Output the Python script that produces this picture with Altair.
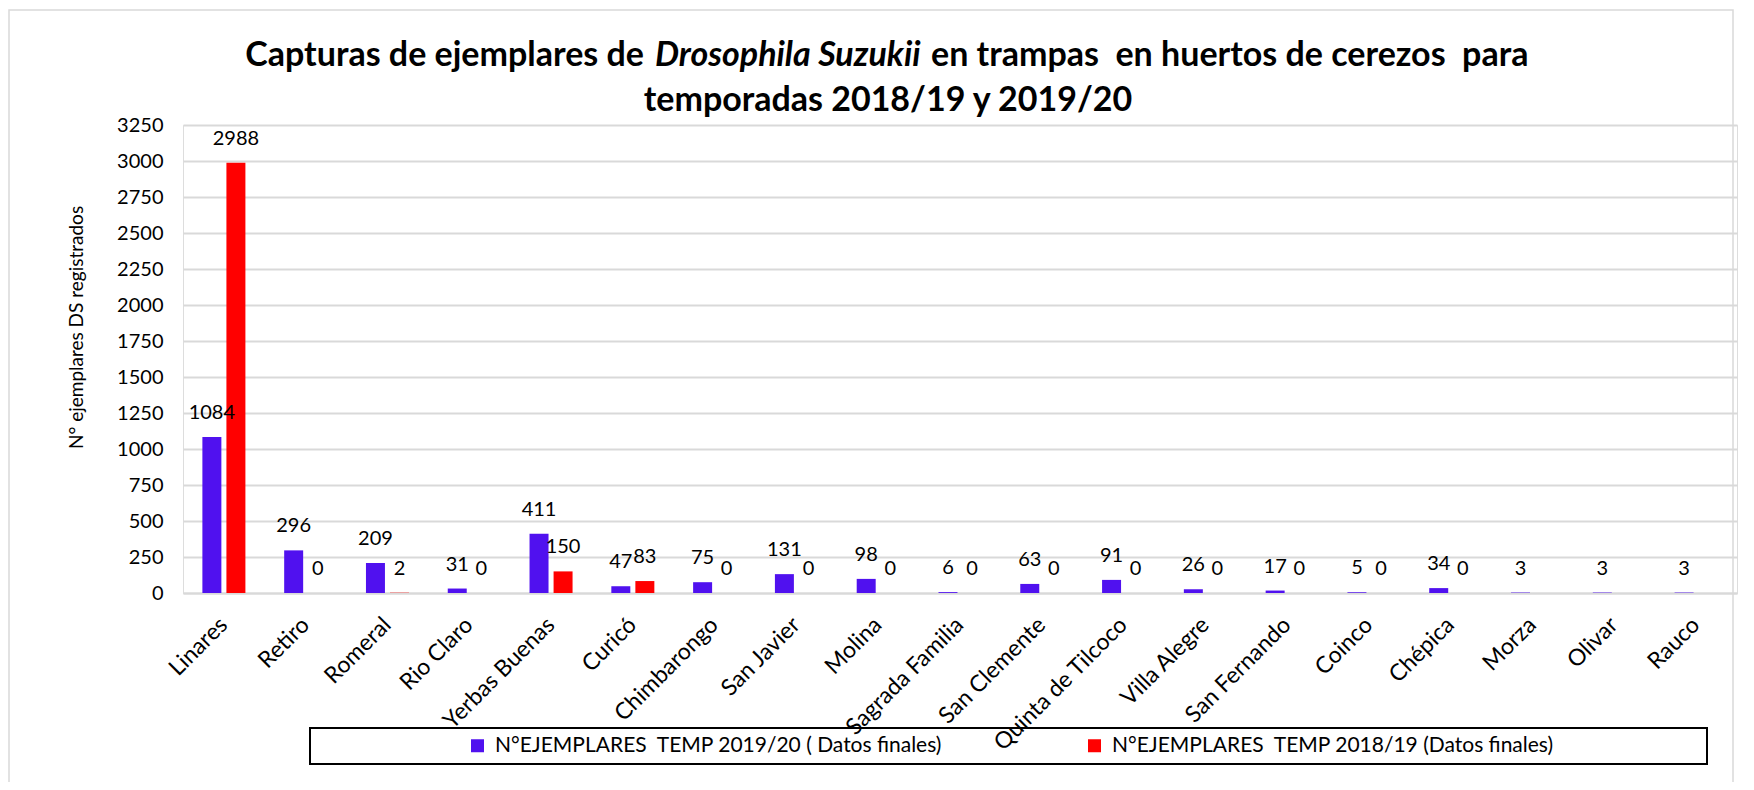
import altair as alt
import pandas as pd

# ---------------- data ----------------
localidades = ["Linares", "Retiro", "Romeral", "Rio Claro", "Yerbas Buenas", "Curicó",
               "Chimbarongo", "San Javier", "Molina", "Sagrada Familia", "San Clemente",
               "Quinta de Tilcoco", "Villa Alegre", "San Fernando", "Coinco", "Chépica",
               "Morza", "Olivar", "Rauco"]
temp_2019_20 = [1084, 296, 209, 31, 411, 47, 75, 131, 98, 6, 63, 91, 26, 17, 5, 34, 3, 3, 3]
temp_2018_19 = [2988, 0, 2, 0, 150, 83, 0, 0, 0, 0, 0, 0, 0, 0, 0, 0, None, None, None]
serie_2019_20 = "N°EJEMPLARES  TEMP 2019/20 ( Datos finales)"
serie_2018_19 = "N°EJEMPLARES  TEMP 2018/19 (Datos finales)"
y_ticks = [0, 250, 500, 750, 1000, 1250, 1500, 1750, 2000, 2250, 2500, 2750, 3000, 3250]
titulo_l1 = ["Capturas de ejemplares de", "Drosophila Suzukii", "en trampas  en huertos de cerezos  para"]
titulo_l2 = "temporadas 2018/19 y 2019/20"
eje_y = "N° ejemplares DS registrados"


def keep_spaces(s):
    # keep the double spaces of the original text visible in SVG
    return s.replace("  ", " \u00a0")


s1 = keep_spaces(serie_2019_20)
s2 = keep_spaces(serie_2018_19)

rows = []
for loc, a, b in zip(localidades, temp_2019_20, temp_2018_19):
    rows.append({"loc": loc, "serie": s1, "valor": a})
    if b is not None:
        rows.append({"loc": loc, "serie": s2, "valor": b})
df = pd.DataFrame(rows)

FONT = "Lato"
BLUE = "#5011EF"
RED = "#FF0000"
GRID = "#d9d9d9"
W, H = 1554, 468

x_enc = alt.X("loc:N", sort=localidades,
              scale=alt.Scale(paddingInner=0.474, paddingOuter=0.237),
              axis=alt.Axis(title=None, labelAngle=-45, labelAlign="right", labelBaseline="middle",
                            labelFont=FONT, labelFontSize=23, labelColor="black", labelPadding=28,
                            ticks=False, domainColor=GRID, domainWidth=2, labelLimit=400))
xoff_enc = alt.XOffset("serie:N", sort=[s1, s2],
                       scale=alt.Scale(paddingInner=0.21, paddingOuter=0))
y_enc = alt.Y("valor:Q", scale=alt.Scale(domain=[0, 3250], nice=False),
              axis=alt.Axis(values=y_ticks, format="d", title=eje_y, grid=True, gridColor=GRID,
                            gridWidth=2, domain=False, ticks=False, labelFont=FONT, labelFontSize=20,
                            labelColor="black", labelPadding=20, titleFont=FONT,
                            titleFontSize=19, titleFontWeight="normal", titleColor="black",
                            titleAngle=270, titleX=-107, titleY=202, titleAlign="center",
                            titleBaseline="middle"))

base = alt.Chart(df).encode(x=x_enc, xOffset=xoff_enc, y=y_enc)

bars = base.mark_bar().encode(
    color=alt.Color("serie:N",
                    scale=alt.Scale(domain=[s1, s2], range=[BLUE, RED]),
                    legend=alt.Legend(title=None, orient="none", direction="horizontal",
                                      legendX=284, legendY=610, symbolType="square",
                                      symbolSize=169, symbolStrokeWidth=0, symbolOpacity=1,
                                      labelFont=FONT, labelFontSize=21, labelColor="black",
                                      labelOffset=7, columnPadding=141, labelLimit=1000))
)

labels = base.mark_text(dy=-24, baseline="middle", font=FONT, fontSize=20, color="black").encode(
    text=alt.Text("valor:Q", format="d")
)

one = pd.DataFrame({"k": [0]})


def ttext(txt, xpos, ypos, align, italic=False):
    return alt.Chart(one).mark_text(
        text=keep_spaces(txt), align=align, baseline="middle", font=FONT, fontSize=34,
        fontWeight="bold", fontStyle="italic" if italic else "normal", color="black"
    ).encode(x=alt.value(xpos), y=alt.value(ypos))


t1 = ttext(titulo_l1[0], 461, -69, "right")
t2 = ttext(titulo_l1[1], 472, -69, "left", italic=True)
t3 = ttext(titulo_l1[2], 748, -69, "left")
t4 = ttext(titulo_l2, 705, -24, "center")

legend_frame = alt.Chart(one).mark_rect(fill="white", fillOpacity=0, stroke="black", strokeWidth=2).encode(
    x=alt.value(127), x2=alt.value(1524), y=alt.value(603), y2=alt.value(639)
)
outer_frame = alt.Chart(one).mark_rect(fill="white", fillOpacity=0, stroke=GRID, strokeWidth=1.5).encode(
    x=alt.value(-174), x2=alt.value(1550), y=alt.value(-115), y2=alt.value(700)
)

chart = alt.layer(outer_frame, bars, labels, t1, t2, t3, t4, legend_frame).properties(
    width=W, height=H,
    padding={"left": 175, "top": 117, "right": 9, "bottom": 189},
    autosize=alt.AutoSizeParams(type="none"),
).configure_view(stroke=None).configure(background="white")

chart.save("out.html", embed_options={"renderer": "svg", "actions": False})
